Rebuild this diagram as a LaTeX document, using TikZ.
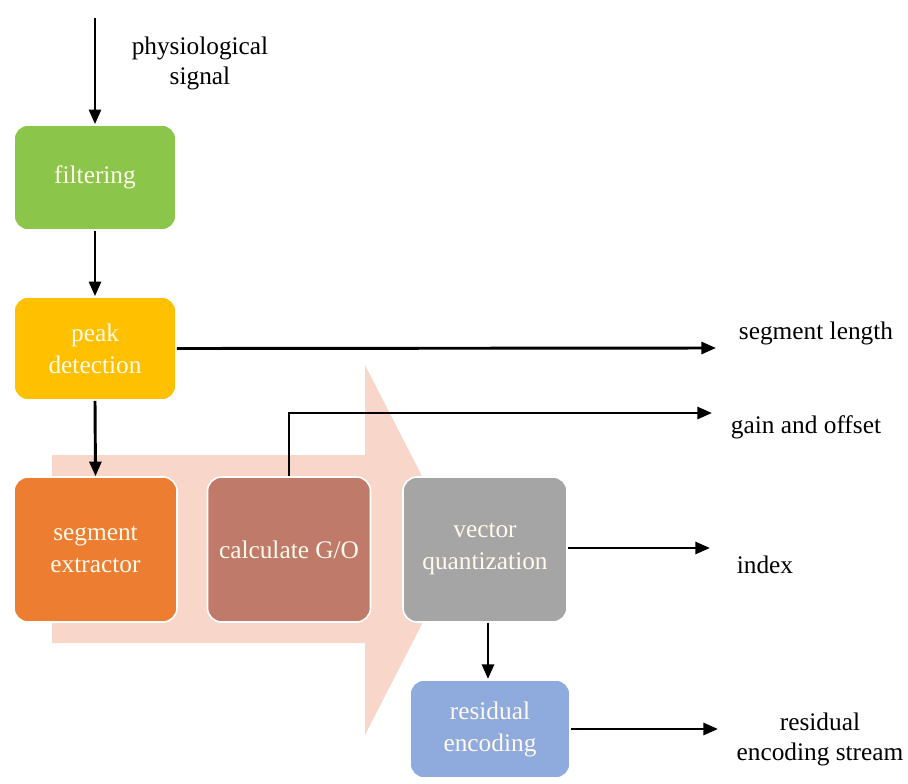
\documentclass[tikz,border=0pt]{standalone}
\usepackage{fontspec}
\setmainfont{LiberationSerif}[Extension=.ttf, UprightFont=*-Regular,
  BoldFont=*-Bold, ItalicFont=*-Italic, BoldItalicFont=*-BoldItalic]
\usetikzlibrary{arrows.meta}
\definecolor{filtgreen}{RGB}{139,198,75}
\definecolor{peakyellow}{RGB}{255,192,0}
\definecolor{segorange}{RGB}{237,125,49}
\definecolor{calcrose}{RGB}{192,122,106}
\definecolor{vqgray}{RGB}{165,165,165}
\definecolor{resblue}{RGB}{143,170,220}
\definecolor{flowpink}{RGB}{248,214,202}
\definecolor{boxtext}{RGB}{255,250,236}
\tikzset{
  stage/.style={draw=white, line width=1.2pt, rounded corners=10.5pt,
    text=boxtext, align=center, inner sep=2pt,
    font=\fontsize{19}{24}\selectfont},
  lbl/.style={text=black, align=center, inner sep=0pt,
    font=\fontsize{19}{22.5}\selectfont},
  flow/.style={line width=2.2pt, -{Triangle[length=11pt,width=9pt]}},
}
\begin{document}
\begin{tikzpicture}[x=0.75pt,y=-0.75pt]
\useasboundingbox (0,0) rectangle (908,783);
% broad background arrow behind the processing chain
\fill[flowpink] (52,455) -- (365,455) -- (365,365) -- (460,550)
  -- (365,735) -- (365,643) -- (52,643) -- cycle;

% processing stages
\node[stage, fill=filtgreen, minimum width=121.5pt, minimum height=78.75pt]
  (filt) at (95,177.5) {filtering};
\node[stage, fill=peakyellow, minimum width=121.5pt, minimum height=77.25pt]
  (peak) at (95,348.5) {peak\\detection};
\node[stage, fill=segorange, minimum width=122.25pt, minimum height=108.75pt]
  (seg) at (95.5,549.5) {segment\\extractor};
\node[stage, fill=calcrose, minimum width=122.25pt, minimum height=108.75pt]
  (calc) at (289,549.5) {calculate G/O};
\node[stage, fill=vqgray, minimum width=123pt, minimum height=108.75pt]
  (vq) at (485,549.5) {vector\\quantization};
\node[stage, fill=resblue, minimum width=120pt, minimum height=73.5pt]
  (res) at (490,729) {residual\\encoding};

% input and output labels
\coordinate (in) at (95,18);
\node[lbl] (sig) at (200,63) {physiological\\signal};
\coordinate (lenEnd) at (716,348);
\node[lbl] (len) at (816,333) {segment length};
\coordinate (goEnd) at (712,413);
\node[lbl] (go) at (806,427) {gain and offset};
\coordinate (idxEnd) at (710,548);
\node[lbl] (idx) at (765,565) {index};
\coordinate (resEnd) at (718,729);
\node[lbl] (stream) at (820,739) {residual\\encoding stream};

% connectors
\draw[flow] (in) -- (filt.north);
\draw[flow] (filt.south) -- (peak.north);
\draw[flow] (peak.south) -- (seg.north);
\draw[flow] (peak.east) -- (lenEnd);
\draw[flow] (calc.north) |- (goEnd);
\draw[flow] (vq.east |- idxEnd) -- (idxEnd);
\draw[flow] (vq.south -| 488,0) -- (488,679);
\draw[flow] (res.east) -- (resEnd);
\end{tikzpicture}
\end{document}
